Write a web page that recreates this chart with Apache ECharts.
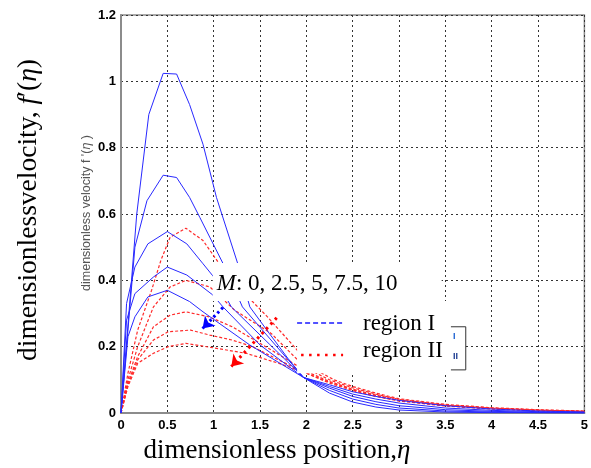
<!DOCTYPE html>
<html><head><meta charset="utf-8">
<script src="https://cdn.jsdelivr.net/npm/echarts@6/dist/echarts.min.js"></script>
<style>html,body{margin:0;padding:0;background:#fff}#c{width:591px;height:468px}</style>
</head><body><div id="c"></div>
<script>
// ---- data (eta, f'(eta)) ----
const regionI_M0 = [[0,0],[0.17,0.6],[0.3,0.9],[0.455,1.024],[0.6,1.022],[0.74,0.93],[0.885,0.81],[1.03,0.65],[1.26,0.45],[1.39,0.32],[1.6,0.24],[1.8,0.165],[1.97,0.107],[2.25,0.06],[2.5,0.033],[2.75,0.018],[3,0.009],[3.5,0.003],[4,0.001],[4.5,0.0005],[5,0]];
const regionI_M2_5 = [[0,0],[0.15,0.5],[0.28,0.64],[0.455,0.717],[0.6,0.71],[0.74,0.65],[0.85,0.59],[1.12,0.44],[1.31,0.32],[1.6,0.226],[1.97,0.107],[2.25,0.068],[2.5,0.042],[2.75,0.026],[3,0.015],[3.5,0.006],[4,0.003],[4.5,0.001],[5,0]];
const regionI_M5 = [[0,0],[0.06,0.33],[0.15,0.44],[0.29,0.51],[0.5,0.547],[0.71,0.51],[0.885,0.45],[1.03,0.4],[1.19,0.32],[1.6,0.208],[1.97,0.107],[2.25,0.075],[2.5,0.05],[2.75,0.034],[3,0.022],[3.5,0.01],[4,0.005],[4.5,0.002],[5,0.001]];
const regionI_M7_5 = [[0,0],[0.06,0.28],[0.15,0.36],[0.35,0.41],[0.5,0.44],[0.71,0.416],[0.99,0.356],[1.1,0.32],[1.5,0.205],[1.97,0.107],[2.25,0.08],[2.5,0.057],[2.75,0.042],[3,0.03],[3.5,0.015],[4,0.008],[4.5,0.004],[5,0.002]];
const regionI_M10 = [[0,0],[0.075,0.23],[0.15,0.29],[0.29,0.35],[0.5,0.37],[0.74,0.336],[0.885,0.305],[1.39,0.205],[1.97,0.107],[2.25,0.085],[2.5,0.064],[2.75,0.05],[3,0.038],[3.5,0.022],[4,0.012],[4.5,0.006],[5,0.003]];

const regionII_M0 = [[0,0],[0.075,0.12],[0.18,0.25],[0.33,0.37],[0.43,0.46],[0.53,0.53],[0.7,0.557],[0.885,0.52],[0.96,0.49],[1.06,0.45],[1.3,0.37],[1.58,0.29],[1.9,0.19],[2.1,0.13],[2.3,0.1],[2.5,0.08],[2.75,0.06],[3,0.043],[3.5,0.026],[4,0.016],[4.5,0.01],[5,0.006]];
const regionII_M2_5 = [[0,0],[0.075,0.1],[0.18,0.2],[0.35,0.32],[0.53,0.38],[0.7,0.4],[0.96,0.38],[1.226,0.31],[1.62,0.24],[1.87,0.17],[2,0.135],[2.25,0.1],[2.5,0.076],[2.75,0.057],[3,0.041],[3.5,0.024],[4,0.015],[4.5,0.009],[5,0.005]];
const regionII_M5 = [[0,0],[0.075,0.09],[0.18,0.17],[0.35,0.26],[0.53,0.295],[0.7,0.305],[0.95,0.29],[1.2,0.26],[1.5,0.21],[1.8,0.16],[2,0.125],[2.25,0.095],[2.5,0.072],[2.75,0.054],[3,0.039],[3.5,0.023],[4,0.014],[4.5,0.008],[5,0.005]];
const regionII_M7_5 = [[0,0],[0.075,0.085],[0.18,0.16],[0.35,0.22],[0.51,0.245],[0.75,0.25],[0.957,0.235],[1.2,0.22],[1.42,0.2],[1.7,0.16],[2,0.12],[2.25,0.093],[2.5,0.07],[2.75,0.052],[3,0.038],[3.5,0.022],[4,0.013],[4.5,0.008],[5,0.004]];
const regionII_M10 = [[0,0],[0.075,0.08],[0.18,0.15],[0.35,0.18],[0.51,0.2],[0.7,0.21],[1.03,0.195],[1.35,0.18],[1.7,0.15],[2,0.12],[2.25,0.09],[2.5,0.068],[2.75,0.05],[3,0.036],[3.5,0.021],[4,0.012],[4.5,0.007],[5,0.004]];

const regionI = [regionI_M0, regionI_M2_5, regionI_M5, regionI_M7_5, regionI_M10];
const regionII = [regionII_M0, regionII_M2_5, regionII_M5, regionII_M7_5, regionII_M10];
const mValues = ['0', '2.5', '5', '7.5', '10'];
const xLabel = 'dimensionless position,';
const yLabel = 'dimensionlessvelocity, ';
const yLabelSmall = "dimensionless velocity f '(";
const legendNames = ['region I', 'region II'];

// annotation arrows (data coordinates)
const arrowBlue = [[1.1, 0.318], [0.88, 0.255]];
const arrowRed = [[1.68, 0.287], [1.19, 0.14]];

const chart = echarts.init(document.getElementById('c'), null, {renderer: 'canvas'});
const BLUE = '#2828ff', RED = '#ff2a2a';
const series = [];
regionI.forEach((d, i) => series.push({
  type: 'line', name: 'region I M=' + mValues[i], data: d, showSymbol: false, smooth: false,
  lineStyle: {color: BLUE, width: 1}, z: 3
}));
regionII.forEach((d, i) => series.push({
  type: 'line', name: 'region II M=' + mValues[i], data: d, showSymbol: false, smooth: false,
  lineStyle: {color: RED, width: 1.2, type: [3, 2]}, z: 2
}));
series.push({
  type: 'lines', coordinateSystem: 'cartesian2d', z: 60,
  symbol: ['none', 'arrow'], symbolSize: [0, 11],
  lineStyle: {opacity: 1, width: 3},
  data: [
    {coords: arrowBlue, lineStyle: {color: '#0000ff', width: 3, opacity: 1, type: [2.5, 3]}},
    {coords: arrowRed, lineStyle: {color: '#ff0000', width: 3, opacity: 1, type: [2.5, 4]}}
  ]
});

chart.setOption({
  animation: false,
  backgroundColor: '#fff',
  grid: {left: 121, right: 5, top: 15, bottom: 55, show: true, borderColor: '#8c8c8c', borderWidth: 1.5},
  xAxis: {
    type: 'value', min: 0, max: 5, interval: 0.5,
    axisLine: {show: true, onZero: false, lineStyle: {color: '#8c8c8c', width: 2}},
    axisTick: {show: false},
    axisLabel: {color: '#000', fontFamily: 'Liberation Sans', fontWeight: 'bold', fontSize: 13, margin: 6},
    splitLine: {show: true, lineStyle: {color: '#333', width: 1, type: [2, 3]}}
  },
  yAxis: {
    type: 'value', min: 0, max: 1.2, interval: 0.2,
    axisLine: {show: true, onZero: false, lineStyle: {color: '#8c8c8c', width: 2}},
    axisTick: {show: false},
    axisLabel: {color: '#000', fontFamily: 'Liberation Sans', fontWeight: 'bold', fontSize: 13, margin: 5},
    splitLine: {show: true, lineStyle: {color: '#333', width: 1, type: [2, 3]}}
  },
  series: series
});

function P(x, y) { return chart.convertToPixel({gridIndex: 0}, [x, y]); }
const boxA0 = P(0.99, 0.452), boxA1 = P(3.46, 0.338);
const boxL0 = P(1.90, 0.338), boxL1 = P(3.56, 0.12);
const br0 = P(3.56, 0.26), br1 = P(3.72, 0.13);
const serif = '"Liberation Serif", "Times New Roman", serif';

chart.setOption({
  graphic: [
    {type: 'rect', z: 50, shape: {x: boxA0[0], y: boxA0[1], width: boxA1[0] - boxA0[0], height: boxA1[1] - boxA0[1]}, style: {fill: '#fff'}},
    {type: 'rect', z: 50, shape: {x: boxL0[0], y: boxL0[1], width: boxL1[0] - boxL0[0], height: boxL1[1] - boxL0[1]}, style: {fill: '#fff'}},
    {type: 'rect', z: 50, shape: {x: br0[0], y: br0[1], width: br1[0] - br0[0], height: br1[1] - br0[1]}, style: {fill: '#fff'}},
    {type: 'polyline', z: 55, shape: {points: [[br0[0], br0[1]], [br1[0], br0[1]], [br1[0], br1[1]], [br0[0], br1[1]]]}, style: {stroke: '#333', lineWidth: 1, fill: null}},
    {type: 'text', z: 56, x: br0[0] + 2, y: br0[1] + 10, style: {text: 'I', font: 'bold 9px "Liberation Sans"', fill: '#1a5fd0', verticalAlign: 'middle'}},
    {type: 'text', z: 56, x: br0[0] + 2, y: br0[1] + 30, style: {text: 'II', font: 'bold 9px "Liberation Sans"', fill: '#1a3a90', verticalAlign: 'middle'}},
    {type: 'text', z: 57, x: boxA0[0] + 4, y: (boxA0[1] + boxA1[1]) / 2 + 2, style: {
      text: '{i|M}: ' + mValues.join(', '), verticalAlign: 'middle', align: 'left',
      font: '23px ' + serif, fill: '#000',
      rich: {i: {font: 'italic 23px ' + serif, fill: '#000'}}
    }},
    {type: 'line', z: 57, shape: {x1: boxL0[0], y1: 323, x2: boxL0[0] + 48, y2: 323}, style: {stroke: '#1a1aff', lineWidth: 1.5, lineDash: [5, 3]}},
    {type: 'line', z: 57, shape: {x1: boxL0[0] + 4, y1: 355, x2: boxL0[0] + 46, y2: 355}, style: {stroke: '#ff0000', lineWidth: 2.5, lineDash: [2.5, 5.5]}},
    {type: 'text', z: 57, x: 363, y: 324, style: {text: legendNames[0], font: '23px ' + serif, fill: '#000', verticalAlign: 'middle'}},
    {type: 'text', z: 57, x: 363, y: 351, style: {text: legendNames[1], font: '23px ' + serif, fill: '#000', verticalAlign: 'middle'}},
    {type: 'text', z: 57, x: 277, y: 451, style: {
      text: xLabel + '{i|η}', align: 'center', verticalAlign: 'middle', font: '27px ' + serif, fill: '#000',
      rich: {i: {font: 'italic 27px ' + serif, fill: '#000'}}
    }},
    {type: 'text', z: 57, x: 29, y: 210, rotation: Math.PI / 2, style: {
      text: yLabel + '{i|f}′({i|η})', align: 'center', verticalAlign: 'middle', font: '27.5px ' + serif, fill: '#000',
      rich: {i: {font: 'italic 27.5px ' + serif, fill: '#000'}}
    }},
    {type: 'text', z: 57, x: 87, y: 213, rotation: Math.PI / 2, style: {
      text: yLabelSmall + '{i|η} )', align: 'center', verticalAlign: 'middle', font: '12.5px "Liberation Sans"', fill: '#555',
      rich: {i: {font: 'italic 12.5px "Liberation Sans"', fill: '#555'}}
    }}
  ]
});
</script>
</body></html>
